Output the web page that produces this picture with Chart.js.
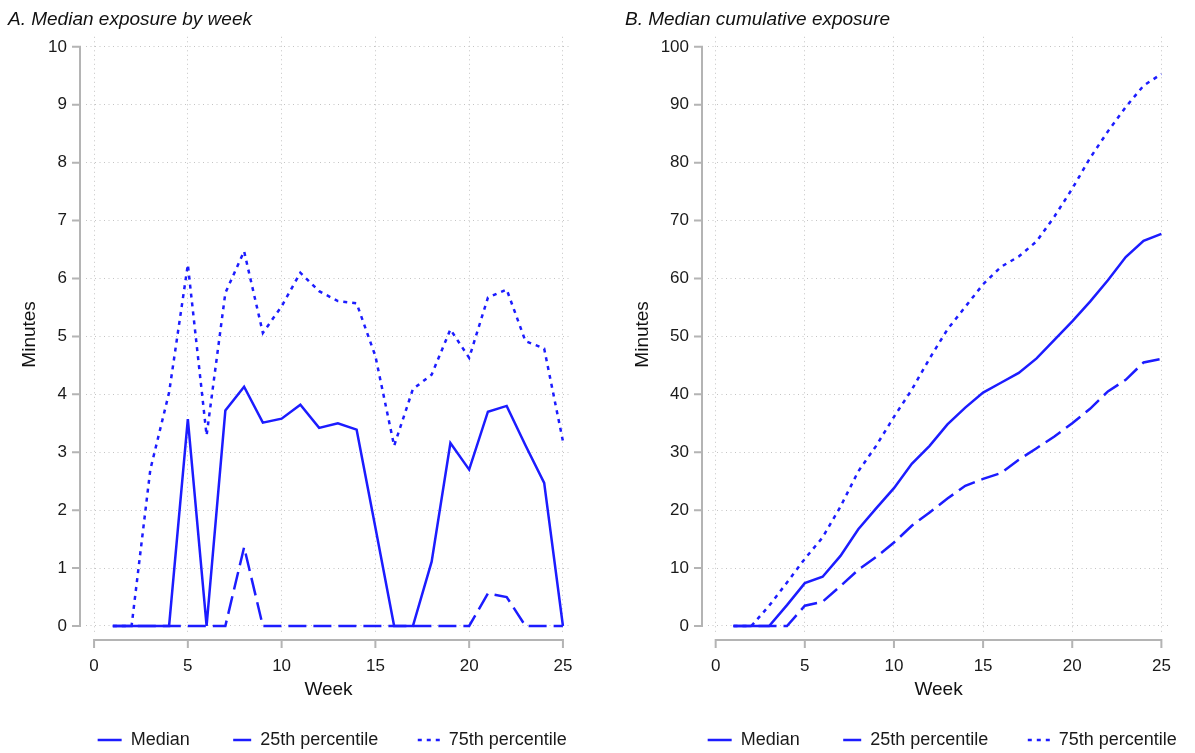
<!DOCTYPE html>
<html>
<head>
<meta charset="utf-8">
<script src="https://cdn.jsdelivr.net/npm/chart.js@4.4.1/dist/chart.umd.min.js"></script>
<style>
  html, body { margin: 0; padding: 0; background: #fff; }
  #wrap { position: relative; width: 1195px; height: 753px; }
  canvas { position: absolute; top: 0; }
  #weeklyChart { left: 0; }
  #cumulativeChart { left: 598px; }
</style>
</head>
<body>
<div id="wrap">
  <canvas id="weeklyChart" width="598" height="753"></canvas>
  <canvas id="cumulativeChart" width="597" height="753"></canvas>
</div>
<script>
const weeks = [1, 2, 3, 4, 5, 6, 7, 8, 9, 10, 11, 12, 13, 14, 15, 16, 17, 18, 19, 20, 21, 22, 23, 24, 25];
const seriesNames = ["Median", "25th percentile", "75th percentile"];

// minutes per week
const weeklyMedian = [0, 0, 0, 0, 3.57, 0, 3.72, 4.13, 3.51, 3.58, 3.82, 3.42, 3.50, 3.39, 1.70, 0, 0, 1.11, 3.16, 2.70, 3.70, 3.80, 3.12, 2.47, 0];
const weeklyP25 = [0, 0, 0, 0, 0, 0, 0, 1.36, 0, 0, 0, 0, 0, 0, 0, 0, 0, 0, 0, 0, 0.56, 0.50, 0, 0, 0];
const weeklyP75 = [0, 0, 2.70, 4.03, 6.24, 3.29, 5.75, 6.47, 5.06, 5.52, 6.10, 5.78, 5.61, 5.57, 4.66, 3.11, 4.09, 4.34, 5.12, 4.63, 5.67, 5.81, 4.92, 4.79, 3.19];

// cumulative minutes
const cumMedian = [0, 0, 0, 3.6, 7.4, 8.5, 12.1, 16.7, 20.3, 23.8, 28.0, 31.1, 34.8, 37.7, 40.3, 42.0, 43.7, 46.2, 49.4, 52.6, 56.0, 59.7, 63.7, 66.5, 67.7];
const cumP25 = [0, 0, 0, 0, 3.5, 4.2, 6.9, 9.7, 11.9, 14.4, 17.3, 19.6, 22.0, 24.2, 25.4, 26.4, 28.7, 30.7, 32.7, 35.0, 37.5, 40.5, 42.5, 45.5, 46.1];
const cumP75 = [0, 0, 3.5, 7.5, 11.6, 15.3, 20.6, 26.7, 31.1, 36.1, 40.8, 46.2, 51.2, 55.1, 59.0, 62.0, 63.8, 66.4, 70.7, 75.5, 80.8, 85.4, 89.6, 93.3, 95.3];

const weekTicks = [0, 5, 10, 15, 20, 25];
const weeklyTicksY = [0, 1, 2, 3, 4, 5, 6, 7, 8, 9, 10];
const cumulativeTicksY = [0, 10, 20, 30, 40, 50, 60, 70, 80, 90, 100];

const LINE_BLUE = "#1c1cff";
const AXIS_GREY = "#b4b4b4";
const GRID_GREY = "#c4c4c4";
const lineDashes = [[], [18, 7], [4, 5]];
// legend keys: visible part on the left, rest of the key box left empty
const legendDashes = [[24, 7.5], [18, 13.5], [4, 5, 4, 5, 4, 9.5]];
const legendDashOffsets = [24, 18, 22];

Chart.defaults.font.family = "'Liberation Sans', Arial, sans-serif";
Chart.defaults.color = "#1a1a1a";

// Stata-like axes: solid grey line offset from the plot region, with outward ticks
const axisFrame = {
  id: "axisFrame",
  afterDraw(chart) {
    const { ctx, chartArea } = chart;
    const xs = chart.scales.x;
    const ys = chart.scales.y;
    const axisX = chartArea.left - 6;
    const axisY = chartArea.bottom + 8;
    const xt = xs.ticks.map(t => xs.getPixelForValue(t.value));
    const yt = ys.ticks.map(t => ys.getPixelForValue(t.value));

    ctx.save();
    ctx.strokeStyle = AXIS_GREY;
    ctx.lineWidth = 2;
    ctx.beginPath();
    ctx.moveTo(axisX, yt[0]);
    ctx.lineTo(axisX, yt[yt.length - 1]);
    yt.forEach(py => {
      ctx.moveTo(axisX + 1, py);
      ctx.lineTo(axisX - 8, py);
    });
    ctx.moveTo(xt[0], axisY);
    ctx.lineTo(xt[xt.length - 1], axisY);
    xt.forEach(px => {
      ctx.moveTo(px, axisY - 1);
      ctx.lineTo(px, axisY + 8);
    });
    ctx.stroke();
    ctx.restore();
  }
};

// keep the legend centred under the plot region rather than the whole canvas
const legendUnderPlot = {
  id: "legendUnderPlot",
  afterLayout(chart) {
    const lg = chart.legend;
    const ca = chart.chartArea;
    const dx = (ca.left + ca.right) / 2 - (lg.left + lg.right) / 2;
    lg.left += dx;
    lg.right += dx;
  }
};

function createPanel(canvasId, cfg) {

  const ctx = document.getElementById(canvasId).getContext("2d");

  const datasets = cfg.series.map((values, i) => ({
    label: seriesNames[i],
    data: weeks.map((w, j) => ({ x: w, y: values[j] })),
    borderColor: LINE_BLUE,
    backgroundColor: LINE_BLUE,
    borderWidth: 2.5,
    borderDash: lineDashes[i],
    pointRadius: 0,
    tension: 0,
    fill: false
  }));

  return new Chart(ctx, {
    type: "line",
    data: { datasets },
    plugins: [axisFrame, legendUnderPlot],
    options: {
      responsive: false,
      animation: false,
      devicePixelRatio: 1,
      layout: { padding: cfg.padding },
      plugins: {
        tooltip: { enabled: false },
        title: {
          display: true,
          text: cfg.title,
          align: "start",
          color: "#111",
          font: { size: 19, style: "italic", weight: "normal" },
          padding: { top: 8, bottom: 6 }
        },
        legend: {
          position: "bottom",
          labels: {
            usePointStyle: true,
            pointStyle: "line",
            pointStyleWidth: 31.5,
            padding: 30,
            color: "#1a1a1a",
            font: { size: 18 },
            generateLabels(chart) {
              const items = Chart.defaults.plugins.legend.labels.generateLabels(chart);
              items.forEach((item, i) => {
                item.strokeStyle = LINE_BLUE;
                item.lineWidth = 2.5;
                item.lineDash = legendDashes[i];
                item.lineDashOffset = legendDashOffsets[i];
              });
              return items;
            }
          }
        }
      },
      scales: {
        x: {
          type: "linear",
          min: -0.43,
          max: 25.43,
          afterBuildTicks(scale) {
            scale.ticks = weekTicks.map(v => ({ value: v }));
          },
          afterFit(scale) {
            scale.height = 69;
          },
          grid: { color: GRID_GREY, lineWidth: 1, drawTicks: false },
          border: { display: false, dash: [1, 3.5] },
          ticks: { padding: 24, font: { size: 17 }, color: "#1a1a1a", maxRotation: 0 },
          title: { display: true, text: "Week", font: { size: 19 }, color: "#111", padding: { top: 0, bottom: 0 } }
        },
        y: {
          min: cfg.yMin,
          max: cfg.yMax,
          afterBuildTicks(scale) {
            scale.ticks = cfg.yTicks.map(v => ({ value: v }));
          },
          afterFit(scale) {
            scale.width = cfg.yWidth;
          },
          grid: { color: GRID_GREY, lineWidth: 1, drawTicks: false },
          border: { display: false, dash: [1, 3.5] },
          ticks: { padding: 19, font: { size: 17 }, color: "#1a1a1a" },
          title: { display: true, text: "Minutes", font: { size: 19 }, color: "#111", padding: { top: cfg.yTitlePad, bottom: 0 } }
        }
      }
    }
  });
}

createPanel("weeklyChart", {
  title: "A. Median exposure by week",
  series: [weeklyMedian, weeklyP25, weeklyP75],
  yMin: -0.104,
  yMax: 10.173,
  yTicks: weeklyTicksY,
  yWidth: 78,
  yTitlePad: 10.6,
  padding: { left: 8, right: 27, top: 0, bottom: -6 }
});

createPanel("cumulativeChart", {
  title: "B. Median cumulative exposure",
  series: [cumMedian, cumP25, cumP75],
  yMin: -1.04,
  yMax: 101.73,
  yTicks: cumulativeTicksY,
  yWidth: 83,
  yTitlePad: 6.6,
  padding: { left: 27, right: 10, top: 0, bottom: -6 }
});
</script>
</body>
</html>
